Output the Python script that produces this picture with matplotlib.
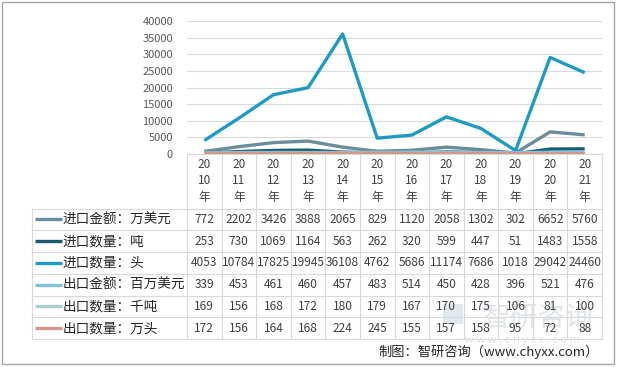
import matplotlib
matplotlib.use("Agg")
import matplotlib.pyplot as plt
from matplotlib.patches import Rectangle

plt.rcParams['font.family'] = ['Noto Sans CJK SC', 'DejaVu Sans']

# ==================================================
# DATA
# ==================================================

years = ["2010", "2011", "2012", "2013", "2014", "2015",
         "2016", "2017", "2018", "2019", "2020", "2021"]

import_value = [772, 2202, 3426, 3888, 2065, 829, 1120, 2058, 1302, 302, 6652, 5760]
import_tons = [253, 730, 1069, 1164, 563, 262, 320, 599, 447, 51, 1483, 1558]
import_heads = [4053, 10784, 17825, 19945, 36108, 4762, 5686, 11174, 7686, 1018, 29042, 24460]
export_value = [339, 453, 461, 460, 457, 483, 514, 450, 428, 396, 521, 476]
export_ktons = [169, 156, 168, 172, 180, 179, 167, 170, 175, 106, 81, 100]
export_wheads = [172, 156, 164, 168, 224, 245, 155, 157, 158, 95, 72, 88]

series_names = ["进口金额：万美元", "进口数量：吨", "进口数量：头",
                "出口金额：百万美元", "出口数量：千吨", "出口数量：万头"]
series_values = [import_value, import_tons, import_heads,
                 export_value, export_ktons, export_wheads]
series_colors = ["#6A8D9C", "#175B70", "#1F9AC4", "#7EC4DF", "#A9CDD1", "#D4968A"]

# ==================================================
# LAYOUT (pixels)
# ==================================================

W, H = 617, 367
plot_left, plot_right = 187, 602
plot_top, plot_bottom = 21, 154
table_left = 32
row_top, table_bottom = 208.5, 339
n = len(years)
col_w = (plot_right - plot_left) / n
row_h = (table_bottom - row_top) / len(series_names)
grid_col = "#D9D9D9"

fig = plt.figure(figsize=(W / 100, H / 100), dpi=100)

# overlay in pixel coords for table and frame
tab = fig.add_axes([0, 0, 1, 1])
tab.set_xlim(0, W)
tab.set_ylim(H, 0)
tab.axis("off")

tab.add_patch(Rectangle((2, 2), W - 5, H - 5, fill=False, ec="#A6A6A6", lw=1))

# ==================================================
# WATERMARK (faint, behind the table text)
# ==================================================

tab.add_patch(Rectangle((443, 304), 20, 20, color="#C5D3E3", alpha=0.5, lw=0, zorder=0))
tab.text(538, 318, "智研咨询", ha="center", va="center", fontsize=20,
         color="#BCC6CF", alpha=0.45, zorder=0)
tab.text(522, 340, "w w w . c h y x x . c o m", ha="center", va="center",
         fontsize=8, color="#BCC6CF", alpha=0.5, zorder=0)

# ==================================================
# CHART
# ==================================================

ax = fig.add_axes([plot_left / W, 1 - plot_bottom / H,
                   (plot_right - plot_left) / W, (plot_bottom - plot_top) / H])
ax.set_facecolor("none")
x = list(range(n))
# small series first, big ones on top like the reference
order = [5, 4, 3, 1, 0, 2]
for i in order:
    ax.plot(x, series_values[i], color=series_colors[i], lw=2.4,
            solid_capstyle="butt", zorder=3 + i)
ax.set_xlim(-0.5, n - 0.5)
ax.set_ylim(0, 40000)
ax.set_yticks(range(0, 40001, 5000))
ax.set_xticks([])
ax.grid(axis="y", color=grid_col, lw=0.8)
ax.set_axisbelow(True)
for s in ["top", "right", "left"]:
    ax.spines[s].set_visible(False)
ax.spines["bottom"].set_color(grid_col)
ax.tick_params(axis="y", length=0, labelsize=8, labelcolor="#595959", pad=10)

# ==================================================
# TABLE
# ==================================================

for k in range(n + 1):
    xe = plot_left + k * col_w
    tab.plot([xe, xe], [plot_bottom, table_bottom], color=grid_col, lw=0.8)
tab.plot([table_left, table_left], [row_top, table_bottom], color=grid_col, lw=0.8)

for r in range(len(series_names) + 1):
    ye = row_top + r * row_h
    tab.plot([table_left, plot_right], [ye, ye], color=grid_col, lw=0.8)

# year header
for k, yr in enumerate(years):
    xc = plot_left + (k + 0.5) * col_w
    for j, part in enumerate([yr[:2], yr[2:], "年"]):
        tab.text(xc, 165 + j * 16, part, ha="center", va="center",
                 fontsize=8.5, color="#404040")

# rows
for r, (name, vals, col) in enumerate(zip(series_names, series_values, series_colors)):
    yc = row_top + (r + 0.5) * row_h
    tab.plot([35, 62], [yc, yc], color=col, lw=2.4, solid_capstyle="butt")
    tab.text(63, yc, name, ha="left", va="center", fontsize=9.8, color="#262626")
    for k, v in enumerate(vals):
        xc = plot_left + (k + 0.5) * col_w
        tab.text(xc, yc, str(v), ha="center", va="center",
                 fontsize=8.6, color="#404040")

# ==================================================
# SOURCE
# ==================================================

tab.text(599, 352, "制图：智研咨询（www.chyxx.com）", ha="right", va="center",
         fontsize=9.5, color="#262626")

fig.savefig("out.png", dpi=100)
